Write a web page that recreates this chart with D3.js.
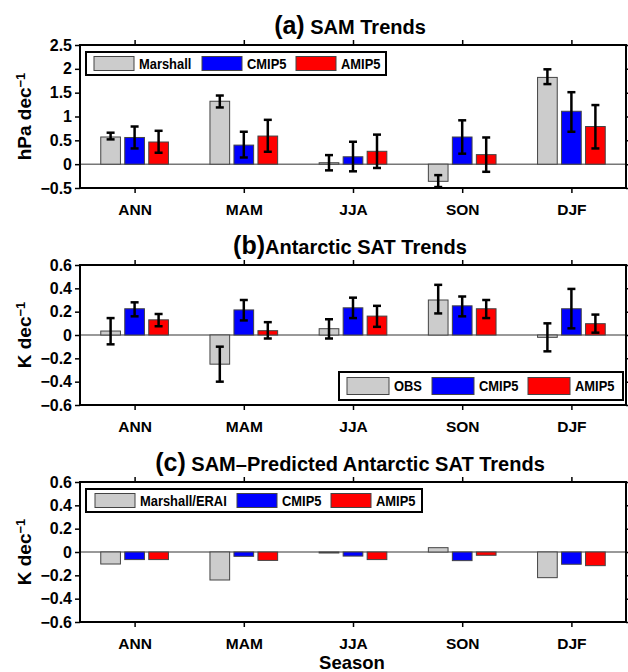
<!DOCTYPE html>
<html>
<head>
<meta charset="utf-8">
<script src="https://cdn.jsdelivr.net/npm/d3@7"></script>
<style>
  body { margin: 0; background: white; }
  svg text { font-family: "Liberation Sans", Arial, sans-serif; font-weight: bold; fill: black; }
</style>
</head>
<body>
<svg id="chart" width="628" height="672"></svg>
<script>
// seasons on the x axis
var seasons = ["ANN", "MAM", "JJA", "SON", "DJF"];
var series = ["obs", "cmip5", "amip5"];

// (a) SAM trends, hPa/dec
var samObs = [0.57, 1.32, 0.03, -0.36, 1.82],
    samObsLo = [0.52, 1.19, -0.13, -0.48, 1.68],
    samObsHi = [0.66, 1.44, 0.19, -0.23, 1.99];
var samCmip = [0.56, 0.40, 0.155, 0.57, 1.11],
    samCmipLo = [0.33, 0.14, -0.15, 0.22, 0.68],
    samCmipHi = [0.79, 0.68, 0.47, 0.92, 1.51];
var samAmip = [0.465, 0.59, 0.27, 0.20, 0.79],
    samAmipLo = [0.24, 0.26, -0.08, -0.16, 0.33],
    samAmipHi = [0.70, 0.93, 0.62, 0.56, 1.24];

// (b) Antarctic SAT trends, K/dec
var satObs = [0.034, -0.25, 0.054, 0.30, -0.02],
    satObsLo = [-0.08, -0.40, -0.03, 0.185, -0.14],
    satObsHi = [0.145, -0.10, 0.135, 0.43, 0.10];
var satCmip = [0.225, 0.215, 0.233, 0.25, 0.225],
    satCmipLo = [0.16, 0.125, 0.145, 0.16, 0.057],
    satCmipHi = [0.28, 0.30, 0.32, 0.33, 0.395];
var satAmip = [0.13, 0.037, 0.162, 0.225, 0.097],
    satAmipLo = [0.075, -0.03, 0.07, 0.145, 0.02],
    satAmipHi = [0.18, 0.11, 0.25, 0.30, 0.175];

// (c) SAM-predicted SAT trends, K/dec (no error bars)
var predObs = [-0.103, -0.24, -0.008, 0.037, -0.22];
var predCmip = [-0.065, -0.037, -0.035, -0.074, -0.105];
var predAmip = [-0.065, -0.072, -0.065, -0.028, -0.117];

var samTicks = [-0.5, 0, 0.5, 1, 1.5, 2, 2.5];
var satTicks = [-0.6, -0.4, -0.2, 0, 0.2, 0.4, 0.6];

var barColors = {obs: "#cccccc", cmip5: "#0000ff", amip5: "#ff0000"};

var left = 80, right = 626, fontFam = "'Liberation Sans', Arial, sans-serif";

function rows(vals, lo, hi) {
  return seasons.map(function(s, i) {
    return {season: s, idx: i + 1, v: vals[i], lo: lo ? lo[i] : null, hi: hi ? hi[i] : null};
  });
}

// squeeze a text horizontally, the original lettering is a narrow helvetica
function condense(sel, k) {
  sel.each(function() {
    var w = this.getComputedTextLength();
    d3.select(this).attr("textLength", w * k).attr("lengthAdjust", "spacingAndGlyphs");
  });
}

var panels = [
  {
    top: 45, bottom: 188, domain: [-0.5, 2.5], ticks: samTicks,
    letter: "(a)", title: " SAM Trends", ylab: "hPa dec",
    data: {obs: rows(samObs, samObsLo, samObsHi), cmip5: rows(samCmip, samCmipLo, samCmipHi), amip5: rows(samAmip, samAmipLo, samAmipHi)},
    legend: {x: 86, y: 52, w: 300, h: 23, sw: 40, sh: 14, names: ["Marshall", "CMIP5", "AMIP5"], pos: [94, 202, 296]}
  },
  {
    top: 265, bottom: 405, domain: [-0.6, 0.6], ticks: satTicks,
    letter: "(b)", title: "Antarctic SAT Trends", ylab: "K dec",
    data: {obs: rows(satObs, satObsLo, satObsHi), cmip5: rows(satCmip, satCmipLo, satCmipHi), amip5: rows(satAmip, satAmipLo, satAmipHi)},
    legend: {x: 339, y: 372, w: 284, h: 28, sw: 42, sh: 17, names: ["OBS", "CMIP5", "AMIP5"], pos: [347, 432, 528]}
  },
  {
    top: 482, bottom: 622, domain: [-0.6, 0.6], ticks: satTicks,
    letter: "(c)", title: " SAM\u2013Predicted Antarctic SAT Trends", ylab: "K dec",
    data: {obs: rows(predObs), cmip5: rows(predCmip), amip5: rows(predAmip)},
    legend: {x: 86, y: 489, w: 336, h: 23, sw: 40, sh: 14, names: ["Marshall/ERAI", "CMIP5", "AMIP5"], pos: [95, 237, 331]}
  }
];

var svg = d3.select("#chart");

var x = d3.scaleLinear().domain([0.5, 5.5]).range([left, right]);
var x1 = d3.scaleBand().domain(series).range([-36, 36]).paddingInner(0.18).paddingOuter(0.09);

panels.forEach(function(p) {
  var y = d3.scaleLinear().domain(p.domain).range([p.bottom, p.top]);
  var g = svg.append("g");

  // title
  var t = g.append("text")
    .attr("x", 350)
    .attr("y", p.top - 11)
    .attr("text-anchor", "middle");
  t.append("tspan").style("font-size", "25px").text(p.letter);
  t.append("tspan").style("font-size", "20px").text(p.title);

  // y label with superscript
  var yl = g.append("text")
    .attr("transform", "translate(31," + ((p.top + p.bottom) / 2) + ") rotate(-90)")
    .attr("text-anchor", "middle")
    .style("font-size", "19px");
  yl.append("tspan").text(p.ylab);
  yl.append("tspan").attr("dy", "-0.45em").style("font-size", "13px").text("\u22121");

  // zero line
  g.append("line")
    .attr("x1", left).attr("x2", right)
    .attr("y1", y(0)).attr("y2", y(0))
    .attr("stroke", "#777").attr("stroke-width", 1.5);

  // bars
  series.forEach(function(s) {
    var d = p.data[s];
    g.selectAll("rect.bar-" + s).data(d).enter()
      .append("rect")
      .attr("class", "bar-" + s)
      .attr("x", function(d) { return x(d.idx) + x1(s); })
      .attr("width", x1.bandwidth())
      .attr("y", function(d) { return y(Math.max(0, d.v)); })
      .attr("height", function(d) { return Math.max(1, Math.abs(y(d.v) - y(0))); })
      .attr("fill", barColors[s])
      .attr("stroke", "#444")
      .attr("stroke-width", 1);

    var withErr = d.filter(function(d) { return d.lo != null; });
    var eg = g.selectAll("g.err-" + s).data(withErr).enter()
      .append("g").attr("class", "err-" + s)
      .attr("stroke", "black").attr("stroke-width", 2.5);
    eg.append("line")
      .attr("x1", function(d) { return x(d.idx) + x1(s) + x1.bandwidth() / 2; })
      .attr("x2", function(d) { return x(d.idx) + x1(s) + x1.bandwidth() / 2; })
      .attr("y1", function(d) { return y(d.lo); })
      .attr("y2", function(d) { return y(d.hi); });
    ["lo", "hi"].forEach(function(k) {
      eg.append("line")
        .attr("x1", function(d) { return x(d.idx) + x1(s) + x1.bandwidth() / 2 - 4; })
        .attr("x2", function(d) { return x(d.idx) + x1(s) + x1.bandwidth() / 2 + 4; })
        .attr("y1", function(d) { return y(d[k]); })
        .attr("y2", function(d) { return y(d[k]); });
    });
  });

  // axes
  var fmt = d3.format("");
  var ax = g.append("g").attr("transform", "translate(" + left + ",0)")
    .call(d3.axisLeft(y).tickValues(p.ticks).tickSize(5).tickPadding(3).tickFormat(fmt));
  ax.selectAll("text").style("font-size", "16px").style("font-family", fontFam);

  g.append("g").attr("transform", "translate(" + right + ",0)")
    .call(d3.axisRight(y).tickValues(p.ticks).tickSize(5).tickFormat(""));

  g.append("g").attr("transform", "translate(0," + p.top + ")")
    .call(d3.axisTop(x).tickValues([1, 2, 3, 4, 5]).tickSize(5).tickFormat(""));

  var bx = g.append("g").attr("transform", "translate(0," + p.bottom + ")")
    .call(d3.axisBottom(x).tickValues([1, 2, 3, 4, 5]).tickSize(5).tickPadding(11)
      .tickFormat(function(d) { return seasons[d - 1]; }));
  bx.selectAll("text").style("font-size", "15.5px").style("font-family", fontFam);

  g.selectAll(".domain").remove();
  g.selectAll(".tick line").attr("stroke", "black").attr("stroke-width", 1.5);

  // frame
  g.append("rect")
    .attr("x", left).attr("y", p.top)
    .attr("width", right - left).attr("height", p.bottom - p.top)
    .attr("fill", "none").attr("stroke", "black").attr("stroke-width", 2);

  // legend
  var L = p.legend;
  var lg = g.append("g");
  lg.append("rect")
    .attr("x", L.x).attr("y", L.y).attr("width", L.w).attr("height", L.h)
    .attr("fill", "white").attr("stroke", "black").attr("stroke-width", 2);
  series.forEach(function(s, i) {
    lg.append("rect")
      .attr("x", L.pos[i]).attr("y", L.y + (L.h - L.sh) / 2)
      .attr("width", L.sw).attr("height", L.sh)
      .attr("fill", barColors[s]).attr("stroke", "#444").attr("stroke-width", 1);
    lg.append("text")
      .attr("x", L.pos[i] + L.sw + 5)
      .attr("y", L.y + L.h / 2)
      .attr("dy", "0.36em")
      .style("font-size", "15px")
      .text(L.names[i])
      .call(condense, 0.86);
  });
});

// x axis title
svg.append("text")
  .attr("x", 352)
  .attr("y", 669)
  .attr("text-anchor", "middle")
  .style("font-size", "18.5px")
  .text("Season");
</script>
</body>
</html>
